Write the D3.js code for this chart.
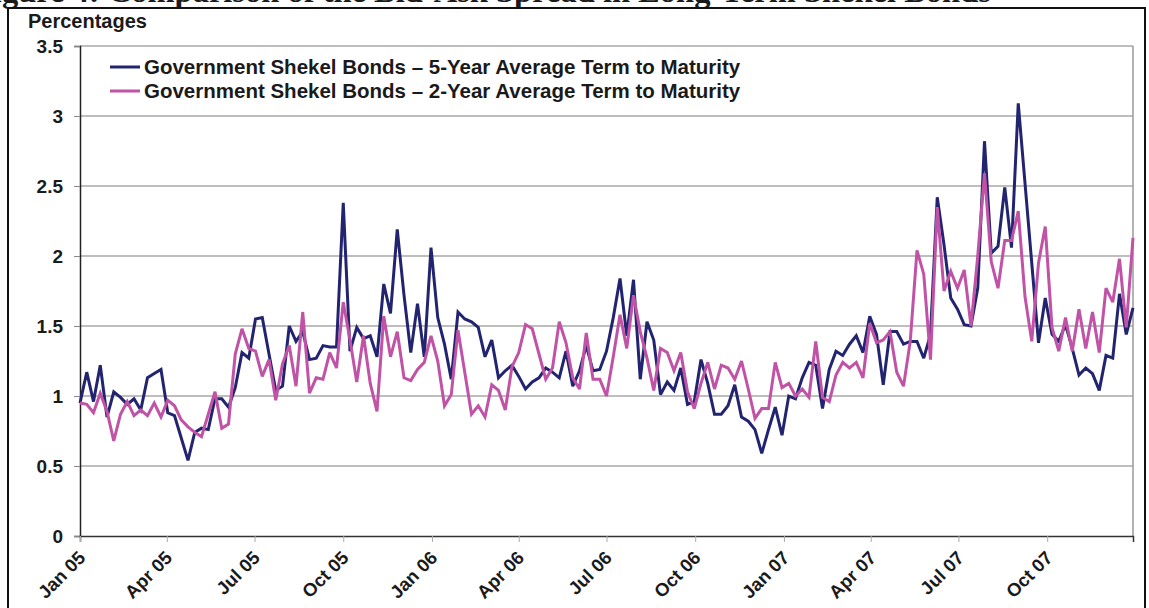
<!DOCTYPE html>
<html>
<head>
<meta charset="utf-8">
<script src="https://cdn.jsdelivr.net/npm/d3@7"></script>
<style>
  html, body { margin: 0; padding: 0; background: #ffffff; }
  svg { display: block; }
  text { font-family: "Liberation Sans", Arial, sans-serif; font-weight: bold; fill: #1a1a1a; }
</style>
</head>
<body>
<svg id="chart" width="1149" height="608"></svg>
<script>
// Weekly observations, first week of January 2005 through end of 2007
const startDate = new Date(2005, 0, 1);
const endDate = new Date(2007, 11, 29);

const fiveYear = [
  0.95, 1.17, 0.96, 1.22, 0.85, 1.03, 0.99, 0.94, 0.98, 0.90,
  1.13, 1.16, 1.19, 0.88, 0.86, 0.70, 0.54, 0.74, 0.77, 0.76,
  0.98, 0.98, 0.92, 1.06, 1.31, 1.27, 1.55, 1.56, 1.30, 1.04,
  1.07, 1.50, 1.39, 1.46, 1.26, 1.27, 1.36, 1.35, 1.35, 2.38,
  1.32, 1.49, 1.41, 1.43, 1.28, 1.80, 1.59, 2.19, 1.72, 1.31,
  1.66, 1.28, 2.06, 1.56, 1.37, 1.12, 1.60, 1.55, 1.53, 1.49,
  1.28, 1.40, 1.13, 1.18, 1.22, 1.14, 1.05, 1.10, 1.13, 1.20,
  1.17, 1.13, 1.32, 1.07, 1.18, 1.36, 1.18, 1.19, 1.32, 1.56,
  1.84, 1.43, 1.83, 1.12, 1.53, 1.40, 1.01, 1.10, 1.04, 1.20,
  0.94, 0.96, 1.26, 1.09, 0.87, 0.87, 0.93, 1.08, 0.85, 0.82,
  0.76, 0.59, 0.76, 0.92, 0.72, 1.00, 0.98, 1.13, 1.24, 1.22,
  0.91, 1.19, 1.32, 1.29, 1.37, 1.43, 1.31, 1.57, 1.44, 1.08,
  1.46, 1.46, 1.37, 1.39, 1.39, 1.27, 1.44, 2.42, 2.08, 1.70,
  1.62, 1.51, 1.50, 1.77, 2.82, 2.02, 2.07, 2.49, 2.06, 3.09,
  2.52, 1.95, 1.38, 1.70, 1.44, 1.39, 1.51, 1.34, 1.15, 1.20,
  1.16, 1.04, 1.29, 1.27, 1.73, 1.44, 1.63
];

const twoYear = [
  0.95, 0.94, 0.88, 1.02, 0.89, 0.68, 0.87, 0.96, 0.86, 0.90,
  0.86, 0.95, 0.85, 0.97, 0.93, 0.83, 0.78, 0.74, 0.71, 0.87,
  1.03, 0.77, 0.80, 1.30, 1.48, 1.34, 1.32, 1.14, 1.26, 0.97,
  1.23, 1.36, 1.07, 1.60, 1.02, 1.13, 1.12, 1.31, 1.20, 1.67,
  1.40, 1.10, 1.43, 1.09, 0.89, 1.57, 1.28, 1.46, 1.13, 1.11,
  1.19, 1.24, 1.43, 1.25, 0.93, 1.01, 1.47, 1.17, 0.87, 0.93,
  0.85, 1.08, 1.04, 0.90, 1.21, 1.31, 1.51, 1.48, 1.30, 1.12,
  1.20, 1.53, 1.38, 1.13, 1.05, 1.45, 1.12, 1.12, 1.00, 1.28,
  1.58, 1.34, 1.72, 1.46, 1.27, 1.04, 1.34, 1.31, 1.18, 1.31,
  1.03, 0.91, 1.09, 1.24, 1.05, 1.22, 1.20, 1.12, 1.25, 1.05,
  0.84, 0.91, 0.91, 1.24, 1.06, 1.09, 1.00, 1.05, 0.99, 1.39,
  0.99, 0.96, 1.15, 1.24, 1.20, 1.24, 1.13, 1.52, 1.38, 1.40,
  1.46, 1.17, 1.07, 1.39, 2.04, 1.87, 1.26, 2.35, 1.75, 1.89,
  1.77, 1.90, 1.50, 2.00, 2.59, 1.96, 1.77, 2.11, 2.11, 2.32,
  1.71, 1.39, 1.95, 2.21, 1.49, 1.32, 1.56, 1.32, 1.62, 1.34,
  1.60, 1.31, 1.77, 1.67, 1.98, 1.49, 2.13
];

const yTicks = [0, 0.5, 1, 1.5, 2, 2.5, 3, 3.5];
const seriesNames = [
  "Government Shekel Bonds \u2013 5-Year Average Term to Maturity",
  "Government Shekel Bonds \u2013 2-Year Average Term to Maturity"
];
const seriesColors = ["#232470", "#c153a6"];
const titleText = "Figure 4: Comparison of the Bid-Ask Spread in Long-Term Shekel Bonds";
const yUnit = "Percentages";

const dates = fiveYear.map((_, i) => d3.timeDay.offset(startDate, 7 * i));
const series = [fiveYear, twoYear];

const svg = d3.select("#chart");
const W = 1149, H = 608;
const plot = { left: 80, right: 1133, top: 46, bottom: 536 };

svg.append("rect").attr("width", W).attr("height", H).attr("fill", "#fff");

// Figure heading running off the top edge of the page
svg.append("text")
  .attr("x", -27).attr("y", 2)
  .style("font-family", "'Liberation Serif', 'Times New Roman', serif")
  .style("font-size", "32.5px")
  .text(titleText);

// Outer frame
svg.append("path")
  .attr("d", `M8,${H} V8 H1145 V${H}`)
  .attr("fill", "none").attr("stroke", "#111").attr("stroke-width", 2);

const x = d3.scaleTime().domain([startDate, endDate]).range([plot.left, plot.right]);
const y = d3.scaleLinear().domain([0, 3.5]).range([plot.bottom, plot.top]);

// Horizontal gridlines
svg.append("g")
  .selectAll("line")
  .data(yTicks.filter(d => d > 0))
  .join("line")
  .attr("x1", plot.left).attr("x2", plot.right)
  .attr("y1", d => y(d)).attr("y2", d => y(d))
  .attr("stroke", "#a8a8a8").attr("stroke-width", 1.3);

// Right edge of plot area
svg.append("line")
  .attr("x1", plot.right).attr("x2", plot.right)
  .attr("y1", plot.top).attr("y2", plot.bottom)
  .attr("stroke", "#9a9a9a").attr("stroke-width", 1.5);

// Y axis
const yAxis = svg.append("g")
  .attr("transform", `translate(${plot.left},0)`)
  .call(d3.axisLeft(y).tickValues(yTicks).tickSize(6).tickPadding(11)
    .tickFormat(d => d === 0 ? "0" : String(d)));
yAxis.select(".domain").attr("stroke", "#222").attr("stroke-width", 1.5);
yAxis.selectAll(".tick line").attr("stroke", "#888");
yAxis.selectAll(".tick text").style("font-size", "19px")
  .style("font-family", "'Liberation Sans', Arial, sans-serif").style("font-weight", "bold").attr("fill", "#1a1a1a");

// X axis with quarterly ticks
const xAxis = svg.append("g")
  .attr("transform", `translate(0,${plot.bottom})`)
  .call(d3.axisBottom(x).ticks(d3.timeMonth.every(3)).tickSize(6)
    .tickFormat(d3.timeFormat("%b %y")));
xAxis.select(".domain").attr("stroke", "#333").attr("stroke-width", 1.5);
xAxis.selectAll(".tick line").attr("stroke", "#aaa");
xAxis.selectAll(".tick text")
  .style("font-size", "18.5px")
  .style("font-family", "'Liberation Sans', Arial, sans-serif").style("font-weight", "bold")
  .attr("fill", "#1a1a1a")
  .attr("text-anchor", "end")
  .attr("dy", null)
  .attr("y", 0)
  .attr("transform", "translate(6,23) rotate(-45)");

// Series lines
const line = d3.line()
  .x((d, i) => x(dates[i]))
  .y(d => y(d));

svg.append("g")
  .selectAll("path")
  .data(series)
  .join("path")
  .attr("d", d => line(d))
  .attr("fill", "none")
  .attr("stroke", (d, i) => seriesColors[i])
  .attr("stroke-width", 3)
  .attr("stroke-linejoin", "miter")
  .attr("stroke-miterlimit", 3);

// Axis unit label
svg.append("text")
  .attr("x", 28).attr("y", 28)
  .style("font-size", "20px")
  .text(yUnit);

// Legend
const legend = svg.append("g")
  .selectAll("g")
  .data(seriesNames)
  .join("g")
  .attr("transform", (d, i) => `translate(110,${67 + i * 24})`);
legend.append("line")
  .attr("x1", 0).attr("x2", 30).attr("y1", 0).attr("y2", 0)
  .attr("stroke", (d, i) => seriesColors[i]).attr("stroke-width", 3);
legend.append("text")
  .attr("x", 34).attr("y", 7)
  .style("font-size", "20.5px")
  .text(d => d);
</script>
</body>
</html>
